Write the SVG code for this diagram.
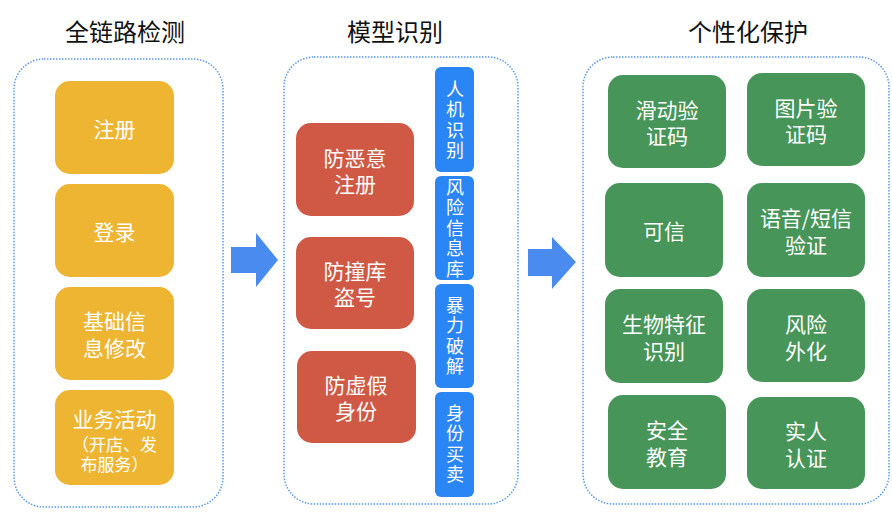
<svg xmlns="http://www.w3.org/2000/svg" width="892" height="515" viewBox="0 0 892 515">
<style>
text{font-family:"Noto Sans CJK SC","Noto Sans",sans-serif;fill:#fff;text-anchor:middle;dominant-baseline:central}
.title{fill:#111;font-size:24px}
.panel{fill:#fff;stroke:#5b9bea;stroke-width:1.5;stroke-dasharray:1.5 1.5}
.y{fill:#edb531}.r{fill:#cf5945}.b{fill:#2b86f5}.g{fill:#479559}
.t{font-size:21px}.s{font-size:17px}
.v{font-size:18px;writing-mode:vertical-rl;letter-spacing:2.5px}
.arrow{fill:#4a8bf0}
</style>
<rect width="892" height="515" fill="#fff"/>
<text class="title" x="125" y="30">全链路检测</text>
<text class="title" x="395" y="30">模型识别</text>
<text class="title" x="748" y="30">个性化保护</text>
<rect class="panel" x="14" y="59" width="209" height="448" rx="30"/>
<rect class="panel" x="284" y="57" width="234" height="447" rx="30"/>
<rect class="panel" x="583" y="57" width="306" height="447" rx="30"/>
<g id="connectors">
<polygon class="arrow" points="231,247 256,247 256,233 278,260 256,287 256,273 231,273"/>
<polygon class="arrow" points="528,249 552,249 552,237 576,262 552,289 552,276 528,276"/>
</g>
<g id="n-zhuce"><rect class="y" x="55" y="81" width="119" height="93" rx="15"/><text class="t" x="114.5" y="127.5">注册</text></g>
<g id="n-denglu"><rect class="y" x="55" y="184" width="119" height="93" rx="15"/><text class="t" x="114.5" y="230.5">登录</text></g>
<g id="n-jichu"><rect class="y" x="55" y="287" width="119" height="93" rx="15"/><text class="t" x="114.5" y="320">基础信<tspan x="114.5" dy="27">息修改</tspan></text></g>
<g id="n-yewu"><rect class="y" x="55" y="390" width="119" height="95" rx="15"/><text class="t" x="114.5" y="418">业务活动<tspan class="s" x="114.5" dy="25">（开店、发</tspan><tspan class="s" x="114.5" dy="20">布服务）</tspan></text></g>
<g id="n-fang1"><rect class="r" x="296" y="123" width="118" height="93" rx="15"/><text class="t" x="355" y="157">防恶意<tspan x="355" dy="26">注册</tspan></text></g>
<g id="n-fang2"><rect class="r" x="296" y="237" width="118" height="92" rx="15"/><text class="t" x="355" y="270">防撞库<tspan x="355" dy="26">盗号</tspan></text></g>
<g id="n-fang3"><rect class="r" x="297" y="351" width="119" height="92" rx="15"/><text class="t" x="356" y="384">防虚假<tspan x="356" dy="26">身份</tspan></text></g>
<g id="n-renji"><rect class="b" x="435" y="67" width="39" height="105" rx="6"/><text class="v" x="455" y="121">人机识别</text></g>
<g id="n-fengxian"><rect class="b" x="435" y="176" width="39" height="104" rx="6"/><text class="v" x="455" y="229">风险信息库</text></g>
<g id="n-baoli"><rect class="b" x="435" y="284" width="39" height="104" rx="6"/><text class="v" x="455" y="337">暴力破解</text></g>
<g id="n-shenfen"><rect class="b" x="435" y="392" width="39" height="105" rx="6"/><text class="v" x="455" y="445">身份买卖</text></g>
<g id="n-huadong"><rect class="g" x="608" y="75" width="118" height="93" rx="15"/><text class="t" x="667" y="109">滑动验<tspan x="667" dy="26">证码</tspan></text></g>
<g id="n-tupian"><rect class="g" x="747" y="73" width="118" height="93" rx="15"/><text class="t" x="806" y="107">图片验<tspan x="806" dy="26">证码</tspan></text></g>
<g id="n-kexin"><rect class="g" x="605" y="183" width="118" height="94" rx="15"/><text class="t" x="664" y="230">可信</text></g>
<g id="n-yuyin"><rect class="g" x="747" y="183" width="118" height="94" rx="15"/><text class="t" x="806" y="217">语音/短信<tspan x="806" dy="27">验证</tspan></text></g>
<g id="n-shengwu"><rect class="g" x="605" y="289" width="118" height="94" rx="15"/><text class="t" x="664" y="323">生物特征<tspan x="664" dy="27">识别</tspan></text></g>
<g id="n-waihua"><rect class="g" x="747" y="289" width="118" height="93" rx="15"/><text class="t" x="806" y="323">风险<tspan x="806" dy="27">外化</tspan></text></g>
<g id="n-anquan"><rect class="g" x="608" y="395" width="118" height="94" rx="15"/><text class="t" x="667" y="429">安全<tspan x="667" dy="27">教育</tspan></text></g>
<g id="n-shiren"><rect class="g" x="747" y="397" width="118" height="92" rx="15"/><text class="t" x="806" y="430">实人<tspan x="806" dy="27">认证</tspan></text></g>
</svg>
